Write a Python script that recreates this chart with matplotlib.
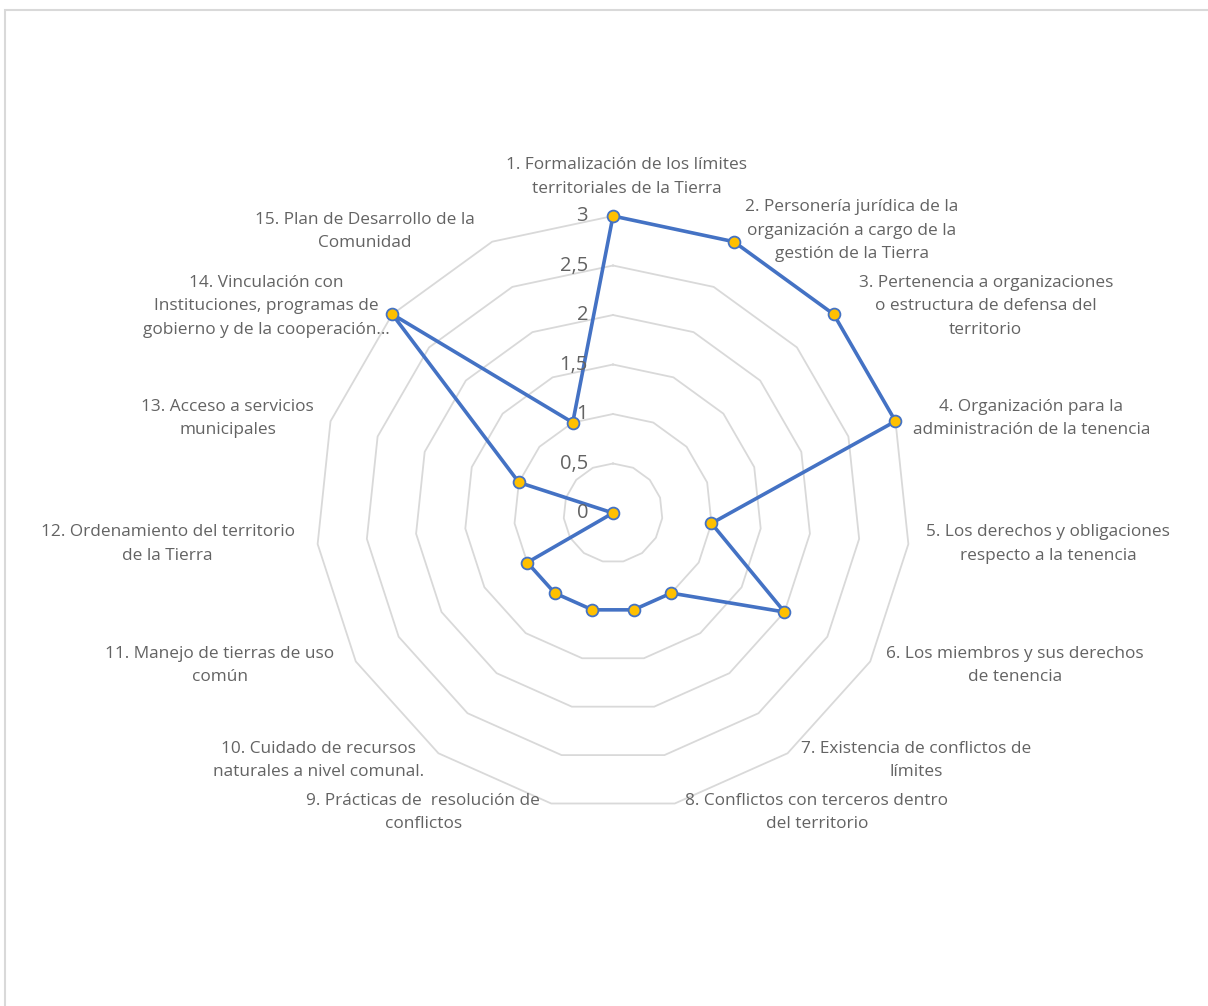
import numpy as np
import matplotlib
matplotlib.use("Agg")
import matplotlib.pyplot as plt
from matplotlib.patches import Rectangle

categories = [
    "1. Formalización de los límites\nterritoriales de la Tierra",
    "2. Personería jurídica de la\norganización a cargo de la\ngestión de la Tierra",
    "3. Pertenencia a organizaciones\no estructura de defensa del\nterritorio",
    "4. Organización para la\nadministración de la tenencia",
    "5. Los derechos y obligaciones\nrespecto a la tenencia",
    "6. Los miembros y sus derechos\nde tenencia",
    "7. Existencia de conflictos de\nlímites",
    "8. Conflictos con terceros dentro\ndel territorio",
    "9. Prácticas de  resolución de\nconflictos",
    "10. Cuidado de recursos\nnaturales a nivel comunal.",
    "11. Manejo de tierras de uso\ncomún",
    "12. Ordenamiento del territorio\nde la Tierra",
    "13. Acceso a servicios\nmunicipales",
    "14. Vinculación con\nInstituciones, programas de\ngobierno y de la cooperación…",
    "15. Plan de Desarrollo de la\nComunidad",
]
values = [3, 3, 3, 3, 1, 2, 1, 1, 1, 1, 1, 0, 1, 3, 1]
tick_values = [0, 0.5, 1, 1.5, 2, 2.5, 3]
tick_labels = ["0", "0,5", "1", "1,5", "2", "2,5", "3"]

# label offsets in pixels from the outer-ring vertex (layout only)
label_offsets = [
    (14, 39), (118, 11), (152, 8), (136, 3), (140, 0), (145, -4), (129, -7),
    (142, -9), (-128, -9), (-120, -7), (-136, -4), (-150, 0), (-103, 3),
    (-126, 8), (-127, 10),
]

plt.rcParams['font.family'] = ['Open Sans', 'DejaVu Sans']
TXT = "#636363"
LINE = "#4472C4"
MARK = "#FFC000"
GRID = "#D9D9D9"

W, H = 1208, 1006
fig = plt.figure(figsize=(W / 100, H / 100), dpi=100)

# chart border (top and left visible)
fig.patches.append(Rectangle((5 / W, -0.01), 1.2, (H - 10.5) / H + 0.01,
                             transform=fig.transFigure, fill=False,
                             edgecolor="#D9D9D9", linewidth=1.5))

cx, cy, R = 613, 513, 297
ax = fig.add_axes([(cx - R) / W, (H - cy - R) / H, 2 * R / W, 2 * R / H],
                  projection='polar')
ax.set_theta_zero_location('N')
ax.set_theta_direction(-1)
ax.set_ylim(0, 3)
ax.grid(False)
ax.spines['polar'].set_visible(False)
ax.set_xticks([])
ax.set_yticks([])
ax.patch.set_alpha(0)

n = len(categories)
theta = np.arange(n) * 2 * np.pi / n
theta_c = np.append(theta, theta[0])

for tv in tick_values[1:]:
    ax.plot(theta_c, [tv] * (n + 1), color=GRID, lw=1.3, zorder=1,
            clip_on=False)

vals_c = np.append(values, values[0])
ax.plot(theta_c, vals_c, color=LINE, lw=2.6, zorder=3,
        solid_joinstyle='round', clip_on=False)
ax.plot(theta, values, linestyle='none', marker='o', markersize=8.5,
        markerfacecolor=MARK, markeredgecolor=LINE, markeredgewidth=1.3,
        zorder=4, clip_on=False)

for tv, tl in zip(tick_values, tick_labels):
    ax.annotate(tl, xy=(0, tv), xytext=(-25, 0), textcoords='offset pixels',
                ha='right', va='center', fontsize=14.5, color=TXT,
                zorder=5)

for th, lab, off in zip(theta, categories, label_offsets):
    ax.annotate(lab, xy=(th, 3), xytext=off, textcoords='offset pixels',
                ha='center', va='center', fontsize=12.4, color=TXT,
                linespacing=1.62, annotation_clip=False, zorder=5)

fig.savefig("out.png", dpi=100)
